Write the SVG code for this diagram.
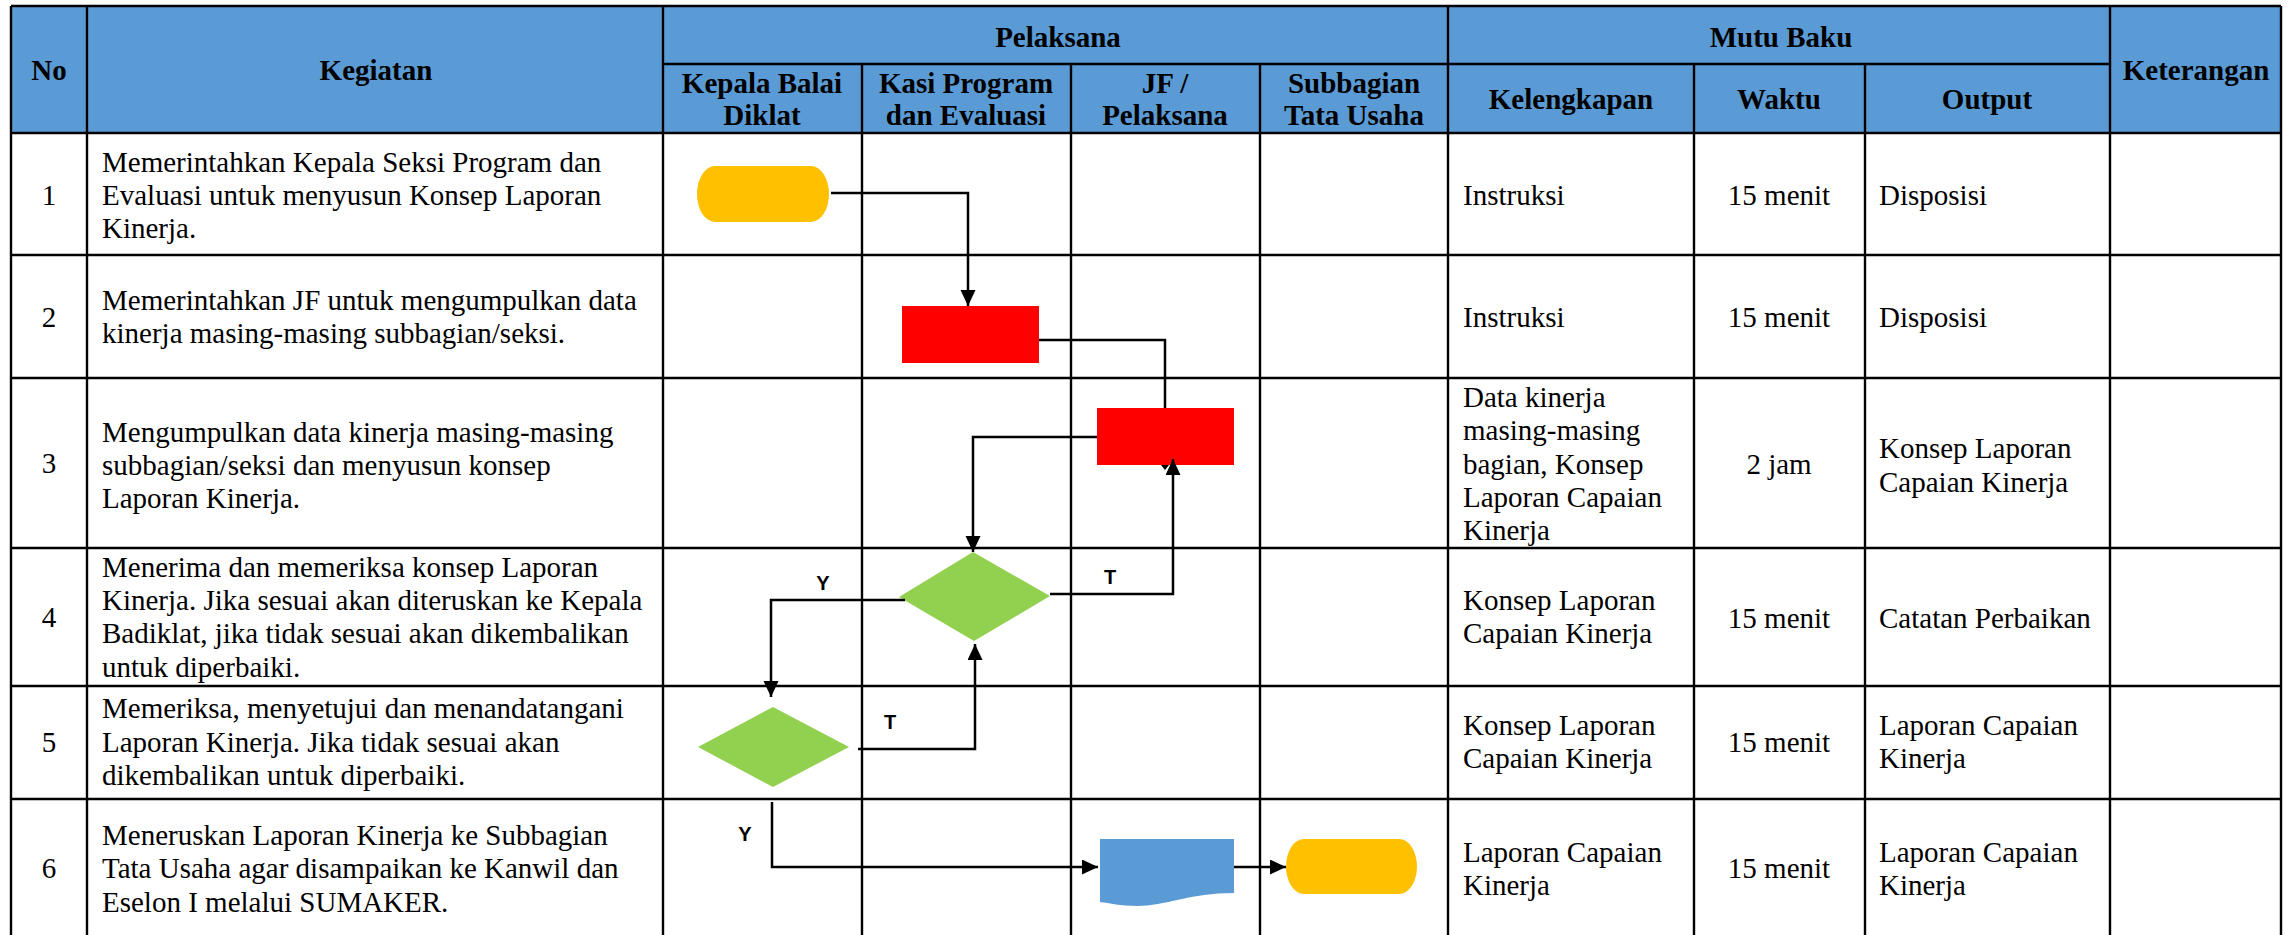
<svg xmlns="http://www.w3.org/2000/svg" width="2293" height="935" viewBox="0 0 2293 935">
<style>
.grid{stroke:#000;stroke-width:2.4;fill:none}
.h{font-family:"Liberation Serif","Times New Roman",serif;font-weight:bold;font-size:29px;fill:#000;text-anchor:middle}
.t{font-family:"Liberation Serif","Times New Roman",serif;font-size:29px;fill:#000}
.c{text-anchor:middle}
.lbl{font-family:"Liberation Sans",Arial,sans-serif;font-weight:bold;font-size:20px;fill:#000;text-anchor:middle}
.conn{stroke:#000;stroke-width:2.5;fill:none}
</style>
<defs>
<marker id="ah" markerUnits="userSpaceOnUse" markerWidth="17" markerHeight="16" refX="16" refY="7.5" orient="auto">
<path d="M0,0 L16,7.5 L0,15 Z" fill="#000"/>
</marker>
</defs>
<rect x="0" y="0" width="2293" height="935" fill="#fff"/>
<g id="table">
<rect x="11" y="6" width="2270" height="127" fill="#5B9BD5"/>
<line class="grid" x1="11" y1="6" x2="2281" y2="6"/>
<line class="grid" x1="663" y1="64" x2="2110" y2="64"/>
<line class="grid" x1="11" y1="133" x2="2281" y2="133"/>
<line class="grid" x1="11" y1="255" x2="2281" y2="255"/>
<line class="grid" x1="11" y1="378" x2="2281" y2="378"/>
<line class="grid" x1="11" y1="548" x2="2281" y2="548"/>
<line class="grid" x1="11" y1="686" x2="2281" y2="686"/>
<line class="grid" x1="11" y1="799" x2="2281" y2="799"/>
<line class="grid" x1="11" y1="6" x2="11" y2="935"/>
<line class="grid" x1="87" y1="6" x2="87" y2="935"/>
<line class="grid" x1="663" y1="6" x2="663" y2="935"/>
<line class="grid" x1="862" y1="64" x2="862" y2="935"/>
<line class="grid" x1="1071" y1="64" x2="1071" y2="935"/>
<line class="grid" x1="1260" y1="64" x2="1260" y2="935"/>
<line class="grid" x1="1448" y1="6" x2="1448" y2="935"/>
<line class="grid" x1="1694" y1="64" x2="1694" y2="935"/>
<line class="grid" x1="1865" y1="64" x2="1865" y2="935"/>
<line class="grid" x1="2110" y1="6" x2="2110" y2="935"/>
<line class="grid" x1="2281" y1="6" x2="2281" y2="935"/>
</g>
<g id="header">
<text class="h" x="49" y="80">No</text>
<text class="h" x="376" y="80">Kegiatan</text>
<text class="h" x="1058" y="47">Pelaksana</text>
<text class="h" x="1781" y="47">Mutu Baku</text>
<text class="h" x="2196" y="80">Keterangan</text>
<text class="h" x="762" y="93">Kepala Balai</text>
<text class="h" x="762" y="125">Diklat</text>
<text class="h" x="966" y="93">Kasi Program</text>
<text class="h" x="966" y="125">dan Evaluasi</text>
<text class="h" x="1165" y="93">JF /</text>
<text class="h" x="1165" y="125">Pelaksana</text>
<text class="h" x="1354" y="93">Subbagian</text>
<text class="h" x="1354" y="125">Tata Usaha</text>
<text class="h" x="1571" y="109">Kelengkapan</text>
<text class="h" x="1779" y="109">Waktu</text>
<text class="h" x="1987" y="109">Output</text>
</g>
<g id="row1">
<text class="t c" x="49" y="205">1</text>
<text class="t" x="102" y="172">Memerintahkan Kepala Seksi Program dan</text>
<text class="t" x="102" y="205">Evaluasi untuk menyusun Konsep Laporan</text>
<text class="t" x="102" y="238">Kinerja.</text>
<text class="t" x="1463" y="205">Instruksi</text>
<text class="t c" x="1779" y="205">15 menit</text>
<text class="t" x="1879" y="205">Disposisi</text>
</g>
<g id="row2">
<text class="t c" x="49" y="327">2</text>
<text class="t" x="102" y="310">Memerintahkan JF untuk mengumpulkan data</text>
<text class="t" x="102" y="343">kinerja masing-masing subbagian/seksi.</text>
<text class="t" x="1463" y="327">Instruksi</text>
<text class="t c" x="1779" y="327">15 menit</text>
<text class="t" x="1879" y="327">Disposisi</text>
</g>
<g id="row3">
<text class="t c" x="49" y="473">3</text>
<text class="t" x="102" y="442">Mengumpulkan data kinerja masing-masing</text>
<text class="t" x="102" y="475">subbagian/seksi dan menyusun konsep</text>
<text class="t" x="102" y="508">Laporan Kinerja.</text>
<text class="t" x="1463" y="407">Data kinerja</text>
<text class="t" x="1463" y="440">masing-masing</text>
<text class="t" x="1463" y="474">bagian, Konsep</text>
<text class="t" x="1463" y="507">Laporan Capaian</text>
<text class="t" x="1463" y="540">Kinerja</text>
<text class="t c" x="1779" y="474">2 jam</text>
<text class="t" x="1879" y="458">Konsep Laporan</text>
<text class="t" x="1879" y="492">Capaian Kinerja</text>
</g>
<g id="row4">
<text class="t c" x="49" y="627">4</text>
<text class="t" x="102" y="577">Menerima dan memeriksa konsep Laporan</text>
<text class="t" x="102" y="610">Kinerja. Jika sesuai akan diteruskan ke Kepala</text>
<text class="t" x="102" y="643">Badiklat, jika tidak sesuai akan dikembalikan</text>
<text class="t" x="102" y="677">untuk diperbaiki.</text>
<text class="t" x="1463" y="610">Konsep Laporan</text>
<text class="t" x="1463" y="643">Capaian Kinerja</text>
<text class="t c" x="1779" y="628">15 menit</text>
<text class="t" x="1879" y="628">Catatan Perbaikan</text>
</g>
<g id="row5">
<text class="t c" x="49" y="752">5</text>
<text class="t" x="102" y="718">Memeriksa, menyetujui dan menandatangani</text>
<text class="t" x="102" y="752">Laporan Kinerja. Jika tidak sesuai akan</text>
<text class="t" x="102" y="785">dikembalikan untuk diperbaiki.</text>
<text class="t" x="1463" y="735">Konsep Laporan</text>
<text class="t" x="1463" y="768">Capaian Kinerja</text>
<text class="t c" x="1779" y="752">15 menit</text>
<text class="t" x="1879" y="735">Laporan Capaian</text>
<text class="t" x="1879" y="768">Kinerja</text>
</g>
<g id="row6">
<text class="t c" x="49" y="878">6</text>
<text class="t" x="102" y="845">Meneruskan Laporan Kinerja ke Subbagian</text>
<text class="t" x="102" y="878">Tata Usaha agar disampaikan ke Kanwil dan</text>
<text class="t" x="102" y="912">Eselon I melalui SUMAKER.</text>
<text class="t" x="1463" y="862">Laporan Capaian</text>
<text class="t" x="1463" y="895">Kinerja</text>
<text class="t c" x="1779" y="878">15 menit</text>
<text class="t" x="1879" y="862">Laporan Capaian</text>
<text class="t" x="1879" y="895">Kinerja</text>
</g>
<g id="start"><rect x="697" y="166" width="132" height="56" rx="18" ry="28" fill="#FFC000"/></g>
<g id="task1"><rect x="902" y="306" width="137" height="57" fill="#FF0000"/></g>
<g id="task2"><rect x="1097" y="408" width="137" height="57" fill="#FF0000"/></g>
<g id="decision1"><polygon points="973,552 1050,596 974,641 899,597" fill="#92D050"/></g>
<g id="decision2"><polygon points="773,707 849,747 773,787 698,747" fill="#92D050"/></g>
<g id="document"><path d="M1100,839 H1234 V893 C1190,893 1165,906 1137,906 C1120,906 1110,903 1100,902 Z" fill="#5B9BD5"/></g>
<g id="end"><rect x="1286" y="839" width="131" height="55" rx="18" ry="27.5" fill="#FFC000"/></g>
<g id="connectors">
<path class="conn" d="M831,193 H968 V306" marker-end="url(#ah)"/>
<path class="conn" d="M1039,340 H1165 V408"/>
<polygon points="1161,465 1169,465 1165,470" fill="#000"/>
<path class="conn" d="M1097,437 H973 V552" marker-end="url(#ah)"/>
<path class="conn" d="M905,600 H771 V697" marker-end="url(#ah)"/>
<path class="conn" d="M1050,594 H1173 V459" marker-end="url(#ah)"/>
<path class="conn" d="M858,749 H975 V644" marker-end="url(#ah)"/>
<path class="conn" d="M772,802 V867 H1098" marker-end="url(#ah)"/>
<path class="conn" d="M1234,867 H1286" marker-end="url(#ah)"/>
<text class="lbl" x="823" y="590">Y</text>
<text class="lbl" x="1110" y="584">T</text>
<text class="lbl" x="890" y="729">T</text>
<text class="lbl" x="745" y="841">Y</text>
</g>
</svg>
